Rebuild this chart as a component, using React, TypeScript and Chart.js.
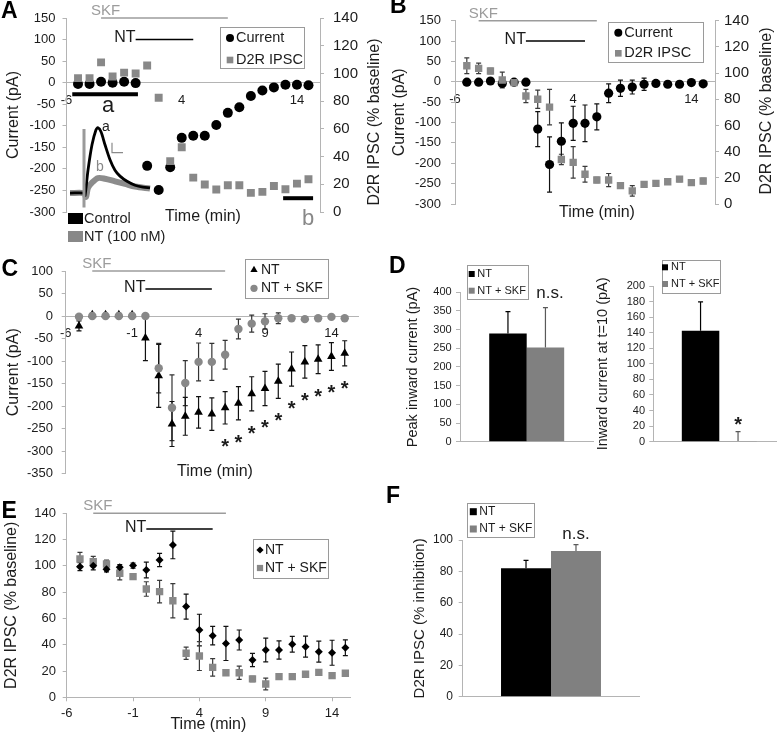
import React, { useEffect, useRef } from 'react';
import { Chart, registerables } from 'chart.js';

Chart.register(...registerables);

const FONT = '"Liberation Sans", Arial, Helvetica, sans-serif';
const INK = '#1c1c1c';
const BLACK = '#000000';
const GRAY = '#888888';
const BAR_GRAY = '#808080';
const SKF_GRAY = '#9c9c9c';
const AXIS = '#b4b4b4';

// ---------- shared time base (min) ----------
const TIME = [-5, -4, -3, -2, -1, 0, 1, 2, 3, 4, 5, 6, 7, 8, 9, 10, 11, 12, 13, 14, 15];
const A_X_TICKS = [-6, 4, 14];
const C_X_TICKS = [-6, -1, 4, 9, 14];

// ---------- Panel A ----------
const A_CURRENT = [-3, -3, 2, 0, 2, -1, -193, -249, -196, -128, -123, -123, -98, -70, -57, -31, -18, -11, -5, -5, -6];
const A_IPSC = [96.6, 96.6, 108, 97.8, 100.6, 100, 105.7, 82.4, 36.7, 46.7, 24.8, 19.8, 16.2, 19.3, 19.3, 13.8, 14.5, 18.8, 16.4, 20.5, 23.6];
const A_SKF = [-3, 8];
const A_NT = [0, 5];
const A_WIN_A = [-5.5, 0.2, -27];
const A_WIN_B = [12.8, 15.4, -268];
// inset traces (ms, % of control peak)
const TRACE_T = [0, 14, 15, 18, 22, 26, 28, 31, 35, 40, 45, 50, 57, 65, 73, 80];
const TRACE_CONTROL = [0, 0, -4, 35, 74, 97, 100, 94, 74, 51, 35, 26, 18, 12, 9, 8];
const TRACE_NT_T = [0, 14, 16, 18, 22, 28, 35, 45, 55, 65, 80];
const TRACE_NT = [0, 0, -6, 8, 16, 23, 22, 18, 14, 10, 7];
const STIM_T = [14, 14];
const STIM_V = [98, -22];
const SCALEBAR_T = [42, 42, 53];
const SCALEBAR_V = [77, 62, 62];

// ---------- Panel B ----------
const B_CURRENT = [-1, -1, 2, -4, -1, -1, -116, -203, -146, -102, -102, -86, -28, -16, -13, -6, -4, -6, -6, -2, -5];
const B_CURRENT_ERR = [3, 3, 3, 4, 3, 3, 43, 68, 45, 42, 45, 32, 23, 20, 17, 15, 6, 5, 4, 4, 3];
const B_IPSC = [105.6, 103.6, 101.6, 94.7, 92.7, 82.5, 80, 74, 34, 31.8, 22.7, 18.3, 18.3, 14, 10, 15, 15.8, 17, 19, 16.3, 17.6];
const B_IPSC_ERR = [6, 4, 2, 6, 2, 5, 7, 13.5, 4, 12, 6, 2, 5, 2, 4, 2, 2, 2, 2, 2, 2];
const B_SKF = [-4, 6];
const B_NT = [0, 5];

// ---------- Panel C ----------
const C_NT = [-22, 3, 3, 3, 3, -49, -133, -240, -223, -214, -218, -204, -194, -173, -161, -145, -118, -102, -96, -90, -83];
const C_NT_ERR = [11, 3, 3, 3, 3, 50, 70, 50, 42, 35, 36, 36, 37, 38, 38, 38, 38, 36, 32, 31, 28];
const C_SKF_NT = [-1.5, 0, 0, 0, 0, 0, -116, -204, -149, -102, -102, -86, -29, -17, -12, -5, -5, -7, -5, -2, -5];
const C_SKF_NT_ERR = [2, 3, 2, 3, 2, 2, 55, 73, 50, 42, 41, 32, 22, 19, 17, 12, 6, 5, 3, 3, 3];
const C_STAR_T = [6, 7, 8, 9, 10, 11, 12, 13, 14, 15];
const C_SKF = [-4, 6];
const C_NTBAR = [0, 5];

// ---------- Panel D ----------
const D_PEAK = [290, 252];
const D_PEAK_ERR = [58, 107];
const D_T10 = [142.6, 1];
const D_T10_ERR = [37, 12];

// ---------- Panel E ----------
const E_NT = [99.4, 100, 97.4, 99, 100.2, 96.9, 104.5, 115.9, 69, 51.2, 46.9, 41, 43.6, 28.4, 36, 36, 40.3, 38.5, 34.7, 33.9, 37.7];
const E_NT_ERR = [3, 3, 2, 2, 2, 6, 5, 10.5, 9.5, 12, 7, 13, 7.6, 5, 9, 7, 6, 8, 8, 9.5, 6];
const E_SKF_NT = [105.2, 103.2, 101.4, 94.4, 91.8, 82.4, 80.4, 73.5, 33.5, 31.4, 22.8, 18.7, 18.7, 14, 10.1, 15.7, 15.7, 17.5, 19, 16.5, 18.3];
const E_SKF_NT_ERR = [5, 4, 3, 5, 2, 5.5, 8.6, 13, 4.7, 11, 6.7, 2, 5, 2, 4.5, 2, 2, 2, 2, 2, 2];
const E_SKF = [-4, 6];
const E_NTBAR = [0, 5];

// ---------- Panel F ----------
const F_INHIB = [82, 93];
const F_INHIB_ERR = [5, 4];

const SERIES_NT = 'NT';
const SERIES_NT_SKF = 'NT + SKF';

const pts = (xs: number[], ys: number[]) => xs.map((x, i) => ({ x, y: ys[i] }));

// ---------- drawing helpers ----------
function txt(ctx: any, s: string, x: number, y: number, size: number, color = INK, align = 'center', opts: any = {}) {
  ctx.save();
  ctx.font = `${opts.bold ? 'bold ' : ''}${size}px ${FONT}`;
  ctx.fillStyle = color;
  ctx.textAlign = align;
  ctx.textBaseline = opts.baseline || 'middle';
  ctx.translate(x, y);
  if (opts.rot) ctx.rotate(opts.rot);
  ctx.fillText(s, 0, 0);
  ctx.restore();
}
function seg(ctx: any, x1: number, y1: number, x2: number, y2: number, color: string, w: number) {
  ctx.save();
  ctx.strokeStyle = color;
  ctx.lineWidth = w;
  ctx.beginPath();
  ctx.moveTo(x1, y1);
  ctx.lineTo(x2, y2);
  ctx.stroke();
  ctx.restore();
}
function marker(ctx: any, style: string, x: number, y: number, r: number, color: string) {
  ctx.save();
  ctx.fillStyle = color;
  ctx.beginPath();
  if (style === 'circle') ctx.arc(x, y, r, 0, Math.PI * 2);
  else if (style === 'rect') {
    const s = r * Math.SQRT1_2;
    ctx.rect(x - s, y - s, 2 * s, 2 * s);
  } else if (style === 'triangle') {
    for (let k = 0; k < 3; k++) {
      const a = (k * 2 * Math.PI) / 3;
      const px = x + r * Math.sin(a);
      const py = y - r * Math.cos(a);
      if (k === 0) ctx.moveTo(px, py);
      else ctx.lineTo(px, py);
    }
    ctx.closePath();
  } else if (style === 'rectRot') {
    ctx.moveTo(x - r, y);
    ctx.lineTo(x, y - r);
    ctx.lineTo(x + r, y);
    ctx.lineTo(x, y + r);
    ctx.closePath();
  }
  ctx.fill();
  ctx.restore();
}
function star(ctx: any, x: number, cy: number, size: number) {
  txt(ctx, '*', x, cy + 0.57 * size, size, INK, 'center', { bold: true, baseline: 'alphabetic' });
}
function drawLegend(ctx: any, box: number[], mx: number, tx: number, size: number, rows: any[]) {
  ctx.save();
  ctx.strokeStyle = '#9a9a9a';
  ctx.lineWidth = 1;
  ctx.strokeRect(Math.round(box[0]) + 0.5, Math.round(box[1]) + 0.5, Math.round(box[2] - box[0]), Math.round(box[3] - box[1]));
  ctx.restore();
  rows.forEach((r) => {
    marker(ctx, r.style, mx, r.y, r.r, r.color);
    txt(ctx, r.label, tx, r.y, size, INK, 'left');
  });
}

// overlay plugin: draws in page coordinates
function overlay(ox: number, oy: number, draw: (ctx: any, H: any, chart: any) => void) {
  return {
    id: 'overlay',
    afterDraw(chart: any) {
      const ctx = chart.ctx;
      const H = {
        X: (v: number, id = 'x') => chart.scales[id].getPixelForValue(v) + ox,
        Y: (v: number, id = 'y') => chart.scales[id].getPixelForValue(v) + oy,
        ox,
        oy,
      };
      ctx.save();
      ctx.translate(-ox, -oy);
      draw(ctx, H, chart);
      ctx.restore();
    },
  };
}

// error bars from dataset.errors
function drawErrors(chart: any, plusPass: boolean) {
  const ctx = chart.ctx;
  chart.data.datasets.forEach((ds: any, i: number) => {
    if (!ds.errors || !!ds.plusOnly !== plusPass) return;
    const meta = chart.getDatasetMeta(i);
    const ys = chart.scales[meta.yAxisID];
    ctx.save();
    ctx.strokeStyle = ds.errorColor || INK;
    ctx.lineWidth = 1.2;
    meta.data.forEach((el: any, j: number) => {
      const raw = ds.data[j];
      const v = typeof raw === 'number' ? raw : raw.y;
      const e = ds.errors[j];
      if (!e) return;
      const x = el.x;
      const cap = 2.5;
      const yTop = ys.getPixelForValue(v + e);
      const yBot = ys.getPixelForValue(ds.plusOnly ? v : v - e);
      ctx.beginPath();
      ctx.moveTo(x, yTop);
      ctx.lineTo(x, yBot);
      ctx.moveTo(x - cap, yTop);
      ctx.lineTo(x + cap, yTop);
      if (!ds.plusOnly) {
        ctx.moveTo(x - cap, yBot);
        ctx.lineTo(x + cap, yBot);
      }
      ctx.stroke();
    });
    ctx.restore();
  });
}
const errorBars = {
  id: 'errorBars',
  beforeDatasetsDraw(chart: any) {
    drawErrors(chart, false);
  },
  afterDatasetsDraw(chart: any) {
    drawErrors(chart, true);
  },
};
Chart.register(errorBars);

// ---------- scale helpers ----------
function leftY(min: number, max: number, step: number, width: number, pad: number, tickSize: number, title: string, titleSize: number, titlePad: number) {
  return {
    type: 'linear',
    position: 'left',
    min,
    max,
    ticks: { stepSize: step, autoSkip: false, padding: pad, color: INK, font: { family: FONT, size: tickSize } },
    grid: { display: true, drawOnChartArea: false, drawTicks: true, tickLength: 4, color: AXIS, lineWidth: 1 },
    border: { display: true, color: AXIS, width: 1 },
    title: { display: true, text: title, color: INK, font: { family: FONT, size: titleSize }, padding: { top: titlePad, bottom: 0 } },
    afterFit: (s: any) => {
      s.width = width;
    },
  };
}
function rightY(min: number, max: number, step: number, width: number, pad: number, tickSize: number) {
  return {
    type: 'linear',
    position: 'right',
    min,
    max,
    ticks: { stepSize: step, autoSkip: false, padding: pad, color: INK, font: { family: FONT, size: tickSize } },
    grid: { display: true, drawOnChartArea: false, drawTicks: true, tickLength: 4, color: AXIS, lineWidth: 1 },
    border: { display: true, color: AXIS, width: 1 },
    afterFit: (s: any) => {
      s.width = width;
    },
  };
}
function centerX(min: number, max: number, tickVals: number[], pad: number) {
  return {
    type: 'linear',
    position: { y: 0 },
    min,
    max,
    afterBuildTicks: (ax: any) => {
      ax.ticks = tickVals.map((v) => ({ value: v }));
    },
    ticks: { autoSkip: false, maxRotation: 0, padding: pad, color: INK, font: { family: FONT, size: 13 } },
    grid: { display: false, drawTicks: false },
    border: { display: true, color: AXIS, width: 1 },
  };
}
function barX(height: number) {
  return {
    type: 'category',
    ticks: { display: false },
    grid: { display: false, drawTicks: false },
    border: { display: true, color: AXIS, width: 1 },
    afterFit: (s: any) => {
      s.height = height;
    },
  };
}
function base(padding: any) {
  return {
    animation: false,
    responsive: false,
    maintainAspectRatio: false,
    events: [],
    layout: { padding },
    plugins: { legend: { display: false }, tooltip: { enabled: false } },
  };
}
function scatterSet(label: string, xs: number[], ys: number[], style: string, r: number, color: string, extra: any = {}) {
  return {
    label,
    data: pts(xs, ys),
    pointStyle: style,
    pointRadius: r,
    pointBackgroundColor: color,
    backgroundColor: color,
    pointBorderWidth: 0,
    borderWidth: 0,
    showLine: false,
    ...extra,
  };
}
function drugBars(ctx: any, H: any, skf: number[], skfLevel: number, nt: number[], ntLevel: number) {
  const sx1 = H.X(skf[0]);
  const sx2 = H.X(skf[1]);
  const sy = H.Y(skfLevel);
  seg(ctx, sx1, sy, sx2, sy, SKF_GRAY, 1.5);
  txt(ctx, 'SKF', sx1 - 10, sy - 7, 15, SKF_GRAY, 'left');
  const nx1 = H.X(nt[0]);
  const nx2 = H.X(nt[1]);
  const ny = H.Y(ntLevel);
  seg(ctx, nx1, ny, nx2, ny, BLACK, 1.5);
  txt(ctx, 'NT', nx1, ny - 1.5, 16, INK, 'right');
}

// ---------- panel builders ----------
function buildA() {
  return {
    type: 'scatter',
    data: {
      datasets: [
        scatterSet('D2R IPSC', TIME, A_IPSC, 'rect', 5.6, GRAY, { yAxisID: 'y2' }),
        scatterSet('Current', TIME, A_CURRENT, 'circle', 5, BLACK, { yAxisID: 'y' }),
      ],
    },
    options: {
      ...base({ top: 15.7, bottom: 38, left: 0, right: 0 }),
      scales: {
        x: centerX(-6, 16, A_X_TICKS, 10),
        y: leftY(-300, 150, 50, 66.5, 7, 13, 'Current (pA)', 16, 4),
        y2: rightY(0, 140, 20, 70, 9, 15),
      },
    },
    plugins: [
      overlay(0, 0, (ctx, H) => {
        drugBars(ctx, H, A_SKF, 150, A_NT, 100);
        seg(ctx, H.X(A_WIN_A[0]), H.Y(A_WIN_A[2]), H.X(A_WIN_A[1]), H.Y(A_WIN_A[2]), BLACK, 4);
        txt(ctx, 'a', 108, 106, 22, INK);
        seg(ctx, H.X(A_WIN_B[0]), H.Y(A_WIN_B[2]), H.X(A_WIN_B[1]), H.Y(A_WIN_B[2]), BLACK, 4);
        txt(ctx, 'b', 308, 219, 22, GRAY);
        txt(ctx, 'Time (min)', 203, 217, 16, INK);
        txt(ctx, 'D2R IPSC (% baseline)', 375, 122, 16, INK, 'center', { rot: -Math.PI / 2 });
        drawLegend(ctx, [220, 27, 304, 68], 230, 236, 14.5, [
          { label: 'Current', style: 'circle', color: BLACK, r: 4, y: 38 },
          { label: 'D2R IPSC', style: 'rect', color: GRAY, r: 4.7, y: 60 },
        ]);
        ctx.fillStyle = BLACK;
        ctx.fillRect(68, 213, 15, 11);
        txt(ctx, 'Control', 84, 218.5, 14.5, INK, 'left');
        ctx.fillStyle = GRAY;
        ctx.fillRect(68, 231, 15, 11);
        txt(ctx, 'NT (100 nM)', 84, 236.5, 14.5, INK, 'left');
      }),
    ],
  };
}

function buildInset() {
  const line = (label: string, xs: number[], ys: number[], color: string, w: number, order: number, tension = 0) => ({
    label,
    data: pts(xs, ys),
    showLine: true,
    borderColor: color,
    borderWidth: w,
    pointRadius: 0,
    tension,
    order,
    clip: false,
  });
  return {
    type: 'scatter',
    data: {
      datasets: [
        line('Stimulus', STIM_T, STIM_V, '#9a9a9a', 3, 0),
        line('Scale', SCALEBAR_T, SCALEBAR_V, '#8a8a8a', 1.2, 0),
        line('Control', TRACE_T, TRACE_CONTROL, BLACK, 2.8, 1, 0.3),
        line('NT (100 nM)', TRACE_NT_T, TRACE_NT, 'rgba(128,128,128,0.9)', 6, 2, 0.3),
      ],
    },
    options: {
      ...base(0),
      scales: {
        x: { type: 'linear', min: -4, max: 84, display: false },
        y: { type: 'linear', min: -29, max: 115, display: false },
      },
    },
    plugins: [
      overlay(66, 118, (ctx) => {
        txt(ctx, 'a', 106, 127, 14, INK);
        txt(ctx, 'b', 100, 167, 14, GRAY);
      }),
    ],
  };
}

function buildB() {
  const ox = 390;
  return {
    type: 'scatter',
    data: {
      datasets: [
        scatterSet('D2R IPSC', TIME, B_IPSC, 'rect', 5.2, GRAY, { yAxisID: 'y2', errors: B_IPSC_ERR, errorColor: '#3a3a3a' }),
        scatterSet('Current', TIME, B_CURRENT, 'circle', 4.6, BLACK, { yAxisID: 'y', errors: B_CURRENT_ERR, errorColor: '#111' }),
      ],
    },
    options: {
      ...base({ top: 20.7, bottom: 28, left: 0, right: 0 }),
      scales: {
        x: centerX(-6, 16, A_X_TICKS, 10),
        y: leftY(-300, 150, 50, 65, 10, 13, 'Current (pA)', 16, 0.4),
        y2: rightY(0, 140, 20, 62, 5, 15),
      },
    },
    plugins: [
      overlay(ox, 0, (ctx, H) => {
        drugBars(ctx, H, B_SKF, 150, B_NT, 100);
        txt(ctx, 'Time (min)', 597, 213, 16, INK);
        txt(ctx, 'D2R IPSC (% baseline)', 767, 111, 16, INK, 'center', { rot: -Math.PI / 2 });
        drawLegend(ctx, [608.3, 21.7, 703.3, 61.7], 618.3, 624.3, 14.5, [
          { label: 'Current', style: 'circle', color: BLACK, r: 4, y: 32.7 },
          { label: 'D2R IPSC', style: 'rect', color: GRAY, r: 4.7, y: 53.3 },
        ]);
      }),
    ],
  };
}

function buildC() {
  const oy = 250;
  return {
    type: 'scatter',
    data: {
      datasets: [
        scatterSet(SERIES_NT_SKF, TIME, C_SKF_NT, 'circle', 4.2, GRAY, { errors: C_SKF_NT_ERR, errorColor: '#333' }),
        scatterSet(SERIES_NT, TIME, C_NT, 'triangle', 5, BLACK, { errors: C_NT_ERR, errorColor: '#111' }),
      ],
    },
    options: {
      ...base({ top: 21, bottom: 13.3, left: 0, right: 32 }),
      scales: {
        x: centerX(-6, 16, C_X_TICKS, 10),
        y: leftY(-350, 100, 50, 65.7, 8.7, 13, 'Current (pA)', 16, 4),
      },
    },
    plugins: [
      overlay(0, oy, (ctx, H) => {
        drugBars(ctx, H, C_SKF, 100, C_NTBAR, 60);
        txt(ctx, 'Time (min)', 215, 471.7, 16, INK);
        C_STAR_T.forEach((t) => {
          const i = TIME.indexOf(t);
          star(ctx, H.X(t), H.Y(C_NT[i] - C_NT_ERR[i]) + 17.5, 20);
        });
        drawLegend(ctx, [245, 259, 328, 298], 254, 261, 14, [
          { label: SERIES_NT, style: 'triangle', color: BLACK, r: 4.2, y: 270 },
          { label: SERIES_NT_SKF, style: 'circle', color: GRAY, r: 3.6, y: 288.3 },
        ]);
      }),
    ],
  };
}

function barSets(vals: number[], errs: number[]) {
  return [
    { label: SERIES_NT, data: [vals[0]], backgroundColor: BLACK, borderWidth: 0, errors: [errs[0]], plusOnly: true, errorColor: BLACK },
    { label: SERIES_NT_SKF, data: [vals[1]], backgroundColor: BAR_GRAY, borderWidth: 0, errors: [errs[1]], plusOnly: true, errorColor: '#5a5a5a' },
  ];
}
function sqLegend(ctx: any, box: number[], mx: number, tx: number, size: number, side: number, ys: number[]) {
  ctx.save();
  ctx.strokeStyle = '#9a9a9a';
  ctx.lineWidth = 1;
  ctx.strokeRect(Math.round(box[0]) + 0.5, Math.round(box[1]) + 0.5, Math.round(box[2] - box[0]), Math.round(box[3] - box[1]));
  ctx.restore();
  [
    [SERIES_NT, BLACK],
    [SERIES_NT_SKF, BAR_GRAY],
  ].forEach(([label, color], k) => {
    ctx.fillStyle = color;
    ctx.fillRect(mx - side / 2, ys[k] - side / 2, side, side);
    txt(ctx, label, tx, ys[k], size, INK, 'left');
  });
}

function buildDL() {
  const ox = 390;
  const oy = 255;
  return {
    type: 'bar',
    data: { labels: [''], datasets: barSets(D_PEAK, D_PEAK_ERR) },
    options: {
      ...base({ top: 37.3, bottom: 0, left: 0, right: 1.6 }),
      datasets: { bar: { barPercentage: 1, categoryPercentage: 0.562 } },
      scales: {
        x: barX(13.3),
        y: leftY(0, 400, 50, 70, 4.3, 11, 'Peak inward current (pA)', 14.5, 14.6),
      },
    },
    plugins: [
      overlay(ox, oy, (ctx) => {
        sqLegend(ctx, [466.7, 265, 527.3, 299.3], 471.7, 477.3, 11, 6, [274, 290.7]);
        txt(ctx, 'n.s.', 550, 293, 17, INK);
      }),
    ],
  };
}

function buildDR() {
  const ox = 585;
  const oy = 255;
  return {
    type: 'bar',
    data: { labels: [''], datasets: barSets(D_T10, D_T10_ERR) },
    options: {
      ...base({ top: 31, bottom: 0, left: 0, right: 14.7 }),
      datasets: { bar: { barPercentage: 1, categoryPercentage: 0.568 } },
      scales: {
        x: barX(13.3),
        y: leftY(0, 200, 20, 68.3, 4.3, 11, 'Inward current at t=10 (pA)', 14.5, 9.6),
      },
    },
    plugins: [
      overlay(ox, oy, (ctx, H, chart) => {
        sqLegend(ctx, [661.7, 260, 720, 293.3], 665, 671, 11, 6, [267.3, 284]);
        const el = chart.getDatasetMeta(1).data[0];
        star(ctx, el.x + ox, H.Y(D_T10[1] + D_T10_ERR[1]) - 11.6, 20);
      }),
    ],
  };
}

function buildE() {
  const oy = 490;
  return {
    type: 'scatter',
    data: {
      datasets: [
        scatterSet(SERIES_NT, TIME, E_NT, 'rectRot', 4, BLACK, { errors: E_NT_ERR, errorColor: '#111' }),
        scatterSet(SERIES_NT_SKF, TIME, E_SKF_NT, 'rect', 5.2, GRAY, { errors: E_SKF_NT_ERR, errorColor: '#3a3a3a' }),
      ],
    },
    options: {
      ...base({ top: 23.3, bottom: 0, left: 0, right: 40 }),
      scales: {
        x: {
          type: 'linear',
          position: 'bottom',
          min: -6,
          max: 15.35,
          afterBuildTicks: (ax: any) => {
            ax.ticks = C_X_TICKS.map((v) => ({ value: v }));
          },
          ticks: { autoSkip: false, maxRotation: 0, padding: 4.2, color: INK, font: { family: FONT, size: 13 } },
          grid: { display: true, drawOnChartArea: false, drawTicks: true, tickLength: 4, color: AXIS },
          border: { display: true, color: AXIS, width: 1 },
          title: { display: true, text: 'Time (min)', color: INK, font: { family: FONT, size: 16 }, padding: { top: 0, bottom: 2.4 } },
          afterFit: (s: any) => {
            s.height = 39.7;
          },
        },
        y: leftY(0, 140, 20, 66.7, 6.7, 13, 'D2R IPSC (% baseline)', 16, 2.4),
      },
    },
    plugins: [
      overlay(0, oy, (ctx, H) => {
        drugBars(ctx, H, E_SKF, 140, E_NTBAR, 128);
        drawLegend(ctx, [253, 539, 328, 578], 260, 265, 14, [
          { label: SERIES_NT, style: 'rectRot', color: BLACK, r: 3.6, y: 550 },
          { label: SERIES_NT_SKF, style: 'rect', color: GRAY, r: 4.4, y: 568 },
        ]);
      }),
    ],
  };
}

function buildF() {
  const ox = 390;
  const oy = 490;
  return {
    type: 'bar',
    data: { labels: [''], datasets: barSets(F_INHIB, F_INHIB_ERR) },
    options: {
      ...base({ top: 50, bottom: 0, left: 0, right: 137.7 }),
      datasets: { bar: { barPercentage: 1, categoryPercentage: 0.566 } },
      scales: {
        x: barX(40.3),
        y: leftY(0, 100, 20, 72.7, 5.7, 12, 'D2R IPSC (% inhibition)', 15, 21),
      },
    },
    plugins: [
      overlay(ox, oy, (ctx) => {
        sqLegend(ctx, [467.3, 503.3, 534, 537.3], 473.3, 479.3, 12, 7, [511.7, 529]);
        txt(ctx, 'n.s.', 576, 534, 17, INK);
      }),
    ],
  };
}

function ChartBox({ left, top, width, height, build }: any) {
  const ref = useRef<HTMLCanvasElement>(null);
  useEffect(() => {
    const chart = new Chart(ref.current as any, build());
    return () => chart.destroy();
  }, []);
  return <canvas ref={ref} width={width} height={height} style={{ position: 'absolute', left, top, width, height }} />;
}

const LETTERS = [
  ['A', 1, -1.2],
  ['B', 390, -6.2],
  ['C', 1.5, 257.2],
  ['D', 389, 253.8],
  ['E', 1.5, 498.8],
  ['F', 386, 484],
];

export default function App() {
  return (
    <div style={{ position: 'fixed', left: 0, top: 0, width: 777, height: 737, overflow: 'hidden', background: '#ffffff' }}>
      <ChartBox left={0} top={0} width={390} height={250} build={buildA} />
      <ChartBox left={66} top={118} width={88} height={94} build={buildInset} />
      <ChartBox left={390} top={0} width={387} height={232} build={buildB} />
      <ChartBox left={0} top={250} width={390} height={240} build={buildC} />
      <ChartBox left={390} top={255} width={205} height={200} build={buildDL} />
      <ChartBox left={585} top={255} width={215} height={200} build={buildDR} />
      <ChartBox left={0} top={490} width={390} height={247} build={buildE} />
      <ChartBox left={390} top={490} width={387} height={247} build={buildF} />
      {LETTERS.map(([l, x, y]) => (
        <div
          key={l as string}
          style={{ position: 'absolute', left: x as number, top: y as number, font: `bold 23px ${FONT}`, lineHeight: '23px', color: '#000' }}
        >
          {l}
        </div>
      ))}
    </div>
  );
}
